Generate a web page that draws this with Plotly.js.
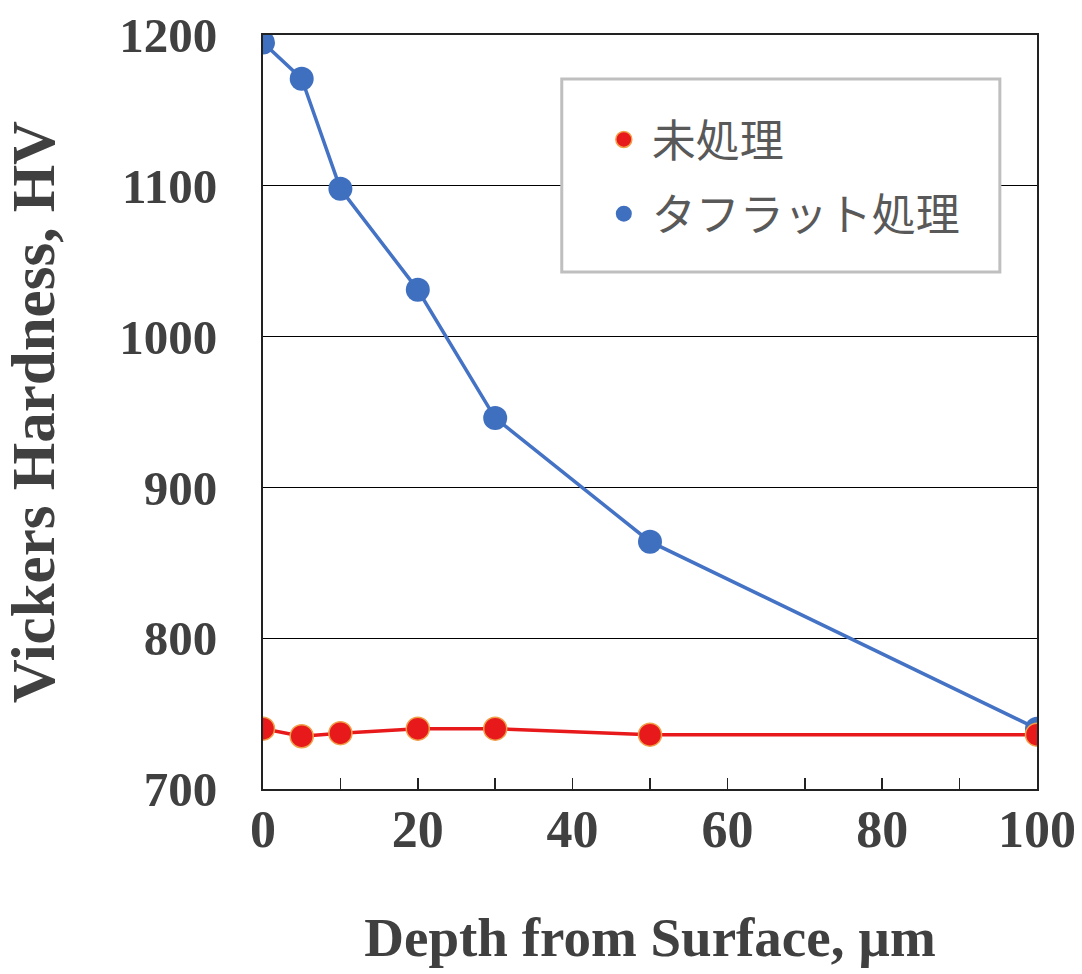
<!DOCTYPE html>
<html>
<head>
<meta charset="utf-8">
<script src="https://cdn.plot.ly/plotly-3.0.1.min.js"></script>
<style>
  body { margin: 0; background: #fff; }
  #chart { width: 1082px; height: 974px; }
</style>
</head>
<body>
<div id="chart"></div>
<script>
// depth values (µm) and hardness readings
var depth = [0, 5, 10, 20, 30, 50, 100];
var untreated = [740, 735, 737, 740, 740, 736, 736];
var tufftride = [1195, 1171, 1098, 1031, 946, 864, 740];

var names = ['未処理', 'タフラット処理'];
var xTicks = [0, 20, 40, 60, 80, 100];
var yTicks = [700, 800, 900, 1000, 1100, 1200];

var textCol = '#404040';
var serif = '"Liberation Serif", "Times New Roman", serif';

var redMarker = {color: '#e8191b', size: 23, line: {color: '#f0a048', width: 1.5}};
var blueMarker = {color: '#3f6fbf', size: 24};

// connecting lines, kept out of the legend
var blueLine = {
  x: depth, y: tufftride, mode: 'lines', type: 'scatter',
  name: names[1], showlegend: false,
  line: {color: '#4472c4', width: 3.5}
};
var redLine = {
  x: depth, y: untreated, mode: 'lines', type: 'scatter',
  name: names[0], showlegend: false,
  line: {color: '#e8191b', width: 3.5}
};
// the points themselves; legend shows dots only
var bluePts = {
  x: depth, y: tufftride, mode: 'markers', type: 'scatter',
  name: names[1], legendgroup: 'b', legendrank: 2,
  marker: blueMarker
};
var redPts = {
  x: depth, y: untreated, mode: 'markers', type: 'scatter',
  name: names[0], legendgroup: 'a', legendrank: 1,
  marker: redMarker
};

var data = [blueLine, redLine, bluePts, redPts];

var layout = {
  width: 1082,
  height: 974,
  margin: {l: 263, r: 45, t: 35, b: 185},
  paper_bgcolor: '#fff',
  plot_bgcolor: '#fff',
  showlegend: true,
  legend: {
    x: 0.43, y: 0.908, xanchor: 'left', yanchor: 'top',
    bgcolor: 'rgba(0,0,0,0)',
    borderwidth: 0,
    traceorder: 'grouped',
    tracegroupgap: 14,
    itemsizing: 'trace',
    itemwidth: 46,
    font: {family: '"Noto Sans CJK JP", sans-serif', size: 44, color: '#595959'}
  },
  xaxis: {
    range: [0, 100],
    tickvals: xTicks,
    ticks: 'inside',
    ticklen: 11,
    tickwidth: 1.5,
    tickcolor: '#222',
    minor: {dtick: 10, ticks: 'inside', ticklen: 11, tickwidth: 1.5, tickcolor: '#222'},
    showline: true,
    linecolor: '#222',
    linewidth: 2,
    mirror: true,
    showgrid: false,
    zeroline: false,
    ticklabelstandoff: -6,
    tickfont: {family: serif, size: 52, color: textCol, weight: 'bold'},
    title: {
      text: 'Depth from Surface, µm',
      standoff: 60,
      font: {family: serif, size: 55, color: textCol, weight: 'bold'}
    }
  },
  yaxis: {
    range: [700, 1200],
    tickvals: yTicks,
    ticks: '',
    showline: true,
    linecolor: '#222',
    linewidth: 2,
    mirror: true,
    showgrid: true,
    gridcolor: '#000',
    gridwidth: 1,
    zeroline: false,
    ticklabelstandoff: 34,
    tickfont: {family: serif, size: 49, color: textCol, weight: 'bold'},
    title: {
      text: 'Vickers Hardness, HV',
      standoff: 52,
      font: {family: serif, size: 61, color: textCol, weight: 'bold'}
    }
  },
  shapes: [{
    type: 'rect', xref: 'paper', yref: 'paper', layer: 'above',
    x0: 0.386, x1: 0.952, y0: 0.6857, y1: 0.9416,
    fillcolor: '#fff',
    line: {color: '#bfbfbf', width: 3}
  }]
};

Plotly.newPlot('chart', data, layout, {displayModeBar: false, staticPlot: true});
</script>
</body>
</html>
